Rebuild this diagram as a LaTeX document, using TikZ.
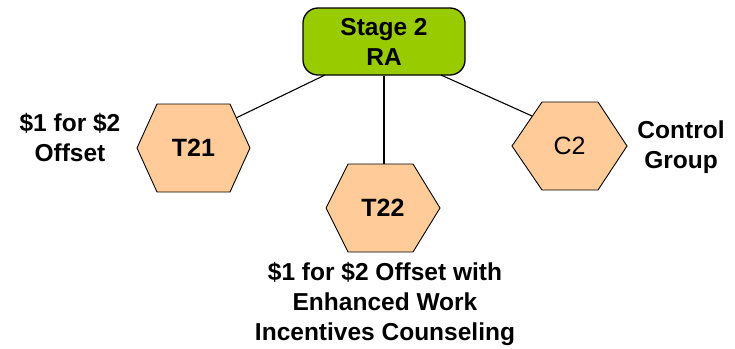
\documentclass[tikz,border=0pt]{standalone}
\usepackage{fontspec}
\setmainfont{Liberation Sans}
\definecolor{stagegreen}{RGB}{153,204,0}
\definecolor{hexpeach}{RGB}{255,204,153}
\begin{document}
\begin{tikzpicture}[x=1pt,y=-1pt]
\tikzset{
  hexshape/.style={fill=hexpeach, draw=black, line width=0.9pt, line join=miter},
  link/.style={draw=black, line width=1.1pt},
  lbl/.style={font=\fontsize{24.5}{30}\selectfont\bfseries, align=center, inner sep=0pt},
  hexlbl/.style={font=\fontsize{25}{30}\selectfont\bfseries, inner sep=0pt},
}
\useasboundingbox (0,0) rectangle (735,348);
% top box
\node[draw=black, fill=stagegreen, rounded corners=15pt, minimum width=162pt,
      minimum height=67pt, line width=1.3pt, lbl] (ra) at (384,41.5) {Stage 2\\RA};
\coordinate (raL) at (325,75);
\coordinate (raR) at (441,75);
\coordinate (t21in) at (236,118);
\coordinate (c2in) at (532,116);
\coordinate (t22in) at (384,164);
% connectors
\draw[link] (raL) -- (t21in);
\draw[link] (ra.south) -- (t22in);
\draw[link] (raR) -- (c2in);
% hexagons
\draw[hexshape] (137,148) -- (157,104) -- (230,104) -- (250,148) -- (230,192) -- (157,192) -- cycle;
\node[hexlbl] (t21) at (193.5,148) {T21};
\draw[hexshape] (326,208) -- (348,164) -- (413,164) -- (440,208) -- (413,252) -- (348,252) -- cycle;
\node[hexlbl] (t22) at (383,208) {T22};
\draw[hexshape] (512,146) -- (542,102) -- (598,102) -- (627,146) -- (598,190) -- (542,190) -- cycle;
\node[hexlbl, font=\fontsize{25}{30}\selectfont] (c2) at (569.5,146) {C2};
% labels
\node[lbl] (t21lab) at (70,138) {\$1 for \$2\\Offset};
\node[lbl] (c2lab) at (681,147) {Control\\Group};
\node[lbl, anchor=north] (t22lab) at (385,262) {\$1 for \$2 Offset with\\Enhanced Work\\Incentives Counseling};
\end{tikzpicture}
\end{document}
